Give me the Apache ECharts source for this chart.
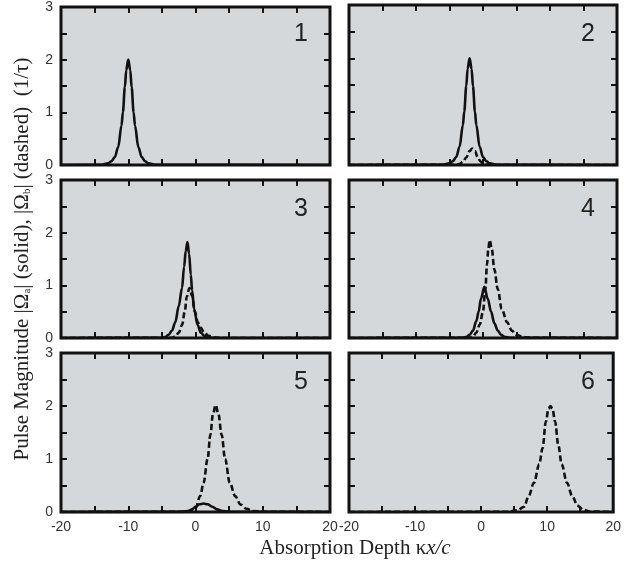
<!DOCTYPE html>
<html>
<head>
<meta charset="utf-8">
<script src="https://cdn.jsdelivr.net/npm/echarts@6/dist/echarts.min.js"></script>
<style>
html, body { margin: 0; padding: 0; background: #fff; }
#chart { width: 624px; height: 567px; }
</style>
</head>
<body>
<div id="chart"></div>
<script>
// [depth kx/c, magnitude] pairs
const panel1Solid = [[-20,0],[-14,0.005],[-13,0.03],[-12.5,0.07],[-12,0.15],[-11.5,0.34],[-11,0.75],[-10.8,1.0],[-10.5,1.48],[-10.3,1.8],[-10,2.0],[-9.7,1.8],[-9.5,1.48],[-9.2,1.0],[-9,0.75],[-8.5,0.34],[-8,0.15],[-7.5,0.07],[-7,0.03],[-6,0.005],[20,0]];
const panel1Dashed = [];

const panel2Solid = [[-20,0],[-6,0.005],[-5,0.03],[-4.5,0.07],[-4,0.15],[-3.5,0.34],[-3,0.75],[-2.8,1.0],[-2.5,1.48],[-2.3,1.8],[-2,2.0],[-1.7,1.8],[-1.5,1.48],[-1.2,1.0],[-1,0.75],[-0.5,0.34],[0,0.15],[0.5,0.07],[1,0.03],[2,0.005],[20,0]];
const panel2Dashed = [[-20,0],[-4,0.005],[-3.5,0.02],[-3,0.06],[-2.5,0.14],[-2,0.26],[-1.6,0.31],[-1.2,0.26],[-0.8,0.15],[-0.4,0.07],[0,0.03],[0.5,0.01],[1.5,0],[20,0]];

const panel3Solid = [[-20,0],[-5,0.005],[-4.5,0.02],[-4,0.06],[-3.5,0.14],[-3,0.3],[-2.5,0.6],[-2,0.95],[-1.7,1.35],[-1.45,1.65],[-1.2,1.82],[-0.95,1.6],[-0.7,1.2],[-0.5,0.9],[-0.2,0.55],[0.3,0.25],[0.8,0.1],[1.3,0.04],[2,0.01],[3,0],[20,0]];
const panel3Dashed = [[-20,0],[-3.5,0.005],[-3,0.03],[-2.5,0.1],[-2,0.25],[-1.6,0.5],[-1.3,0.78],[-0.9,0.95],[-0.5,0.8],[-0.1,0.5],[0.35,0.3],[0.75,0.2],[1.3,0.1],[2,0.04],[3,0.01],[4,0],[20,0]];

const panel4Solid = [[-20,0],[-3,0.005],[-2.5,0.02],[-2,0.06],[-1.5,0.14],[-1,0.32],[-0.65,0.5],[-0.3,0.75],[0.2,0.97],[0.7,0.75],[1.2,0.5],[1.7,0.28],[2.2,0.14],[2.7,0.06],[3.2,0.025],[4,0.005],[20,0]];
const panel4Dashed = [[-20,0],[-2,0.005],[-1.5,0.03],[-1,0.1],[-0.5,0.25],[0,0.5],[0.35,0.93],[0.6,1.4],[0.8,1.7],[1,1.86],[1.3,1.7],[1.7,1.3],[2.2,0.93],[2.8,0.55],[3.6,0.3],[4.3,0.14],[5,0.06],[6,0.02],[7,0.005],[20,0]];

const panel5Solid = [[-20,0],[-2,0.003],[-1,0.02],[-0.5,0.05],[0,0.1],[0.6,0.145],[1.2,0.16],[1.8,0.145],[2.5,0.1],[3.2,0.05],[4,0.02],[5,0.005],[20,0]];
const panel5Dashed = [[-20,0],[-1.5,0.005],[-0.5,0.03],[0,0.07],[0.7,0.3],[1.2,0.55],[1.8,1.0],[2.2,1.45],[2.6,1.85],[3,2.02],[3.4,1.85],[3.9,1.45],[4.4,1.0],[5.1,0.55],[5.9,0.3],[6.7,0.14],[7.6,0.06],[8.5,0.02],[10,0.005],[20,0]];

const panel6Solid = [];
const panel6Dashed = [[-20,0],[4,0.005],[5.5,0.03],[6.5,0.1],[7.2,0.3],[8,0.55],[8.8,0.9],[9.3,1.2],[9.8,1.7],[10.2,1.95],[10.5,2.0],[10.8,1.95],[11.2,1.7],[11.7,1.25],[12.2,0.9],[13,0.55],[13.8,0.3],[14.6,0.12],[15.5,0.04],[16.5,0.01],[20,0]];

const panelLabels = ['1', '2', '3', '4', '5', '6'];
const solidSets = [panel1Solid, panel2Solid, panel3Solid, panel4Solid, panel5Solid, panel6Solid];
const dashedSets = [panel1Dashed, panel2Dashed, panel3Dashed, panel4Dashed, panel5Dashed, panel6Dashed];
const xRange = [-20, 20];
const yRange = [0, 3];

const chart = echarts.init(document.getElementById('chart'));

const gridBoxes = [
  { left: 61, top: 5, width: 269, height: 160 },
  { left: 349, top: 5, width: 268, height: 160 },
  { left: 61, top: 180, width: 269, height: 158 },
  { left: 349, top: 180, width: 268, height: 158 },
  { left: 61, top: 353, width: 269, height: 159 },
  { left: 349, top: 353, width: 268, height: 159 }
];

// fresh objects per axis, echarts doesn't like sharing them
const makeTick = () => ({ show: true, inside: true, length: 6, lineStyle: { color: '#111', width: 2 } });
const makeFont = () => ({ color: '#333', fontSize: 14, fontFamily: 'Liberation Sans, Arial, sans-serif' });
const serif = 'Liberation Serif, Times New Roman, serif';

let grids = [], xAxes = [], yAxes = [], series = [], graphics = [];

gridBoxes.forEach((g, i) => {
  grids.push(Object.assign({
    show: true, backgroundColor: '#d5d8db', borderColor: '#111', borderWidth: 3
  }, g));

  const bottomRow = i >= 4;
  const leftCol = i % 2 === 0;

  // bottom and top x axes (top one just carries mirrored ticks)
  xAxes.push({
    type: 'value', gridIndex: i, position: 'bottom',
    min: xRange[0], max: xRange[1], interval: 5,
    axisLine: { show: false, onZero: false }, splitLine: { show: false },
    axisTick: makeTick(),
    axisLabel: Object.assign({
      show: bottomRow, margin: 8,
      formatter: v => (v % 10 === 0 ? String(v) : '')
    }, makeFont())
  });
  xAxes.push({
    type: 'value', gridIndex: i, position: 'top',
    min: xRange[0], max: xRange[1], interval: 5,
    axisLine: { show: false, onZero: false }, splitLine: { show: false },
    axisTick: makeTick(), axisLabel: { show: false }
  });
  yAxes.push({
    type: 'value', gridIndex: i, position: 'left',
    min: yRange[0], max: yRange[1], interval: 0.5,
    axisLine: { show: false, onZero: false }, splitLine: { show: false },
    axisTick: makeTick(),
    axisLabel: Object.assign({
      show: leftCol, margin: 8,
      formatter: v => (Number.isInteger(v) ? String(v) : '')
    }, makeFont())
  });
  yAxes.push({
    type: 'value', gridIndex: i, position: 'right',
    min: yRange[0], max: yRange[1], interval: 0.5,
    axisLine: { show: false, onZero: false }, splitLine: { show: false },
    axisTick: makeTick(), axisLabel: { show: false }
  });

  if (solidSets[i].length) {
    series.push({
      type: 'line', xAxisIndex: 2 * i, yAxisIndex: 2 * i,
      data: solidSets[i], showSymbol: false, smooth: 0.35, smoothMonotone: 'x',
      lineStyle: { color: '#111', width: 2.6 }
    });
  }
  if (dashedSets[i].length) {
    series.push({
      type: 'line', xAxisIndex: 2 * i, yAxisIndex: 2 * i,
      data: dashedSets[i], showSymbol: false, smooth: 0.35, smoothMonotone: 'x',
      lineStyle: { color: '#111', width: 2.6, type: [6, 3] }
    });
  }

  graphics.push({
    type: 'text', x: g.left + g.width - 22, y: g.top + 17, z: 10,
    style: {
      text: panelLabels[i], fill: '#222', fontSize: 25,
      fontFamily: 'Liberation Sans, Arial, sans-serif',
      textAlign: 'right', textVerticalAlign: 'top'
    }
  });
});

graphics.push({
  type: 'text', x: 20, y: 259, rotation: Math.PI / 2,
  style: {
    text: '{r|Pulse Magnitude |Ω}{s|a}{r|| (solid), |Ω}{s|b}{r|| (dashed)  (1/τ)}',
    textAlign: 'center', textVerticalAlign: 'middle',
    rich: {
      r: { fontSize: 21, fontFamily: serif, fill: '#222', lineHeight: 25, verticalAlign: 'bottom' },
      s: { fontSize: 11, fontFamily: serif, fill: '#222', lineHeight: 11, verticalAlign: 'bottom' }
    }
  }
});

graphics.push({
  type: 'text', x: 355, y: 548,
  style: {
    text: '{r|Absorption Depth κ}{i|x/c}',
    textAlign: 'center', textVerticalAlign: 'middle',
    rich: {
      r: { fontSize: 21, fontFamily: serif, fill: '#222' },
      i: { fontSize: 21, fontStyle: 'italic', fontFamily: serif, fill: '#222' }
    }
  }
});

chart.setOption({
  animation: false,
  grid: grids,
  xAxis: xAxes,
  yAxis: yAxes,
  series: series,
  graphic: graphics
});
</script>
</body>
</html>
